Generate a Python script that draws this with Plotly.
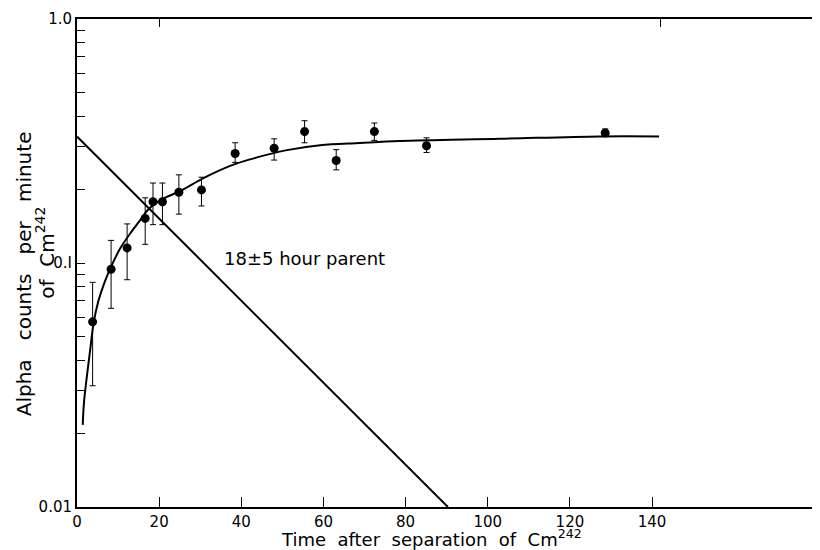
import plotly.graph_objects as go

# Measured points (hours after separation, alpha counts/min)
times = [3.8, 8.3, 12.2, 16.6, 18.5, 20.8, 24.8, 30.3, 38.5, 48.0, 55.4, 63.1, 72.4, 85.1, 128.6]
counts = [0.0574, 0.0943, 0.1153, 0.1523, 0.1783, 0.1783, 0.195, 0.1993, 0.281, 0.2952,
          0.3456, 0.2632, 0.3456, 0.3025, 0.3412]
err_upper = [0.0833, 0.1238, 0.1446, 0.185, 0.2127, 0.2127, 0.2298, 0.2247, 0.311, 0.3228,
             0.3829, 0.2915, 0.3747, 0.3258, 0.3543]
err_lower = [0.0314, 0.0652, 0.0854, 0.1193, 0.1436, 0.1436, 0.1586, 0.1713, 0.2584, 0.2641,
             0.311, 0.2408, 0.318, 0.2838, 0.3314]

# Growth curve
curve_t = [1.4, 1.7, 2.4, 3.2, 4.0, 5.2, 6.8, 8.5, 10.5, 12.9, 15.3, 17.4, 20.8, 25.1, 30.8,
           37.3, 42.1, 51.1, 59.2, 68.9, 78.6, 103.0, 127.3, 141.7]
curve_v = [0.0217, 0.0268, 0.0343, 0.0439, 0.0562, 0.0698, 0.0841, 0.0982, 0.1146, 0.1318,
           0.1491, 0.1662, 0.1828, 0.197, 0.2228, 0.25, 0.2658, 0.2901, 0.3039, 0.3104,
           0.3162, 0.323, 0.3303, 0.3303]

# 18 hour parent decay line
parent_t = [0, 90.3]
parent_v = [0.33, 0.01]

x_ticks = [0, 20, 40, 60, 80, 100, 120, 140]
x_ticktext = ["0", "20", "40", "60", "80", "100", "120", "140"]
y_ticks = [0.01, 0.1, 1.0]
y_ticktext = ["0.01", "0.I", "1.0"]
y_minor = [0.02, 0.03, 0.04, 0.05, 0.06, 0.07, 0.08, 0.09,
           0.2, 0.3, 0.4, 0.5, 0.6, 0.7, 0.8, 0.9]
top_ticks = [20, 142]

FONT = "DejaVu Sans"
NB = "\u00a0"

fig = go.Figure()
fig.add_trace(go.Scatter(x=parent_t, y=parent_v, mode="lines",
                         line=dict(color="black", width=2), hoverinfo="skip"))
fig.add_trace(go.Scatter(x=curve_t, y=curve_v, mode="lines", line_shape="spline",
                         line=dict(color="black", width=2), hoverinfo="skip"))
fig.add_trace(go.Scatter(
    x=times, y=counts, mode="markers",
    marker=dict(color="black", size=9),
    error_y=dict(type="data", symmetric=False,
                 array=[u - c for u, c in zip(err_upper, counts)],
                 arrayminus=[c - l for c, l in zip(counts, err_lower)],
                 color="black", thickness=1, width=3),
))
# dummy trace to activate secondary axes (top ticks, right ticks)
fig.add_trace(go.Scatter(x=[None], y=[None], xaxis="x2", yaxis="y2",
                         mode="markers", hoverinfo="skip"))

fig.update_layout(
    width=812, height=542,
    margin=dict(l=69, r=2, t=2, b=43),
    paper_bgcolor="white", plot_bgcolor="white",
    showlegend=False,
    font=dict(family=FONT, color="black", size=15),
    xaxis=dict(range=[0, 180.4], showgrid=False, zeroline=False,
               showline=True, linecolor="black", linewidth=2, mirror=True,
               tickvals=x_ticks, ticktext=x_ticktext, ticks="inside", ticklen=10,
               tickcolor="black", tickwidth=1, tickfont=dict(size=15)),
    yaxis=dict(type="log", range=[-2, 0], showgrid=False, zeroline=False,
               showline=True, linecolor="black", linewidth=2,
               tickvals=y_ticks, ticktext=y_ticktext, ticks="inside", ticklen=8,
               tickcolor="black", tickwidth=1, tickfont=dict(size=15),
               ticklabeloverflow="allow",
               minor=dict(tickvals=y_minor, ticks="inside", ticklen=8,
                          tickcolor="black", tickwidth=1, showgrid=False)),
    xaxis2=dict(overlaying="x", side="top", range=[0, 180.4], showgrid=False,
                zeroline=False, showline=False, tickvals=top_ticks,
                showticklabels=False, ticks="inside", ticklen=8, tickcolor="black"),
    yaxis2=dict(overlaying="y", side="right", type="log", range=[-2, 0],
                showgrid=False, zeroline=False, showline=False,
                tickvals=y_ticks, showticklabels=False, ticks="inside", ticklen=5,
                tickcolor="black", tickwidth=1,
                minor=dict(tickvals=y_minor, ticks="inside", ticklen=5,
                           tickcolor="black", tickwidth=1, showgrid=False)),
)

fig.add_annotation(x=35.3, y=-0.98, xref="x", yref="y", text="18±5 hour parent",
                   showarrow=False, xanchor="left", yanchor="middle",
                   font=dict(size=18, family=FONT))
fig.add_annotation(x=0.478, y=-0.064, xref="paper", yref="paper",
                   text=f"Time{NB}{NB}after{NB}{NB}separation{NB}{NB}of{NB}{NB}Cm<sup>242</sup>",
                   showarrow=False, xanchor="center", yanchor="middle",
                   font=dict(size=18, family=FONT))
fig.add_annotation(x=-0.0715, y=0.477, xref="paper", yref="paper",
                   text=f"Alpha{NB}{NB}{NB}counts{NB}{NB}{NB}per{NB}{NB}{NB}minute",
                   textangle=-90,
                   showarrow=False, xanchor="center", yanchor="middle",
                   font=dict(size=20, family=FONT))
fig.add_annotation(x=-0.0432, y=0.521, xref="paper", yref="paper",
                   text=f"of{NB}{NB}Cm<sup>242</sup>", textangle=-90,
                   showarrow=False, xanchor="center", yanchor="middle",
                   font=dict(size=20, family=FONT))

fig.write_html("out.html")
